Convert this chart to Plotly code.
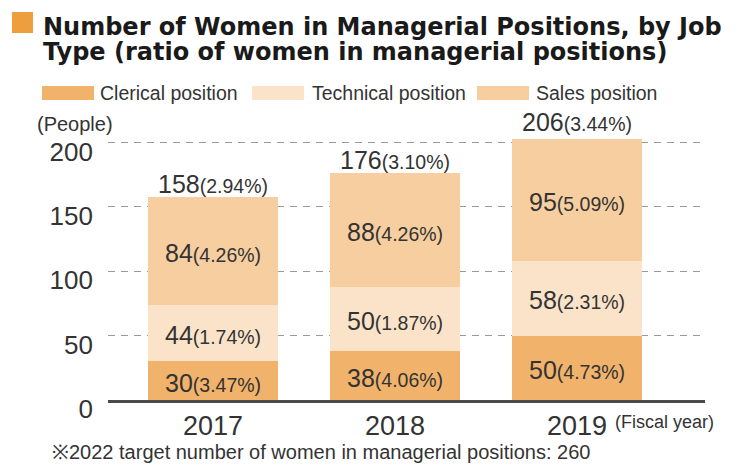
import plotly.graph_objects as go

years = ["2017", "2018", "2019"]
series_names = ["Clerical position", "Technical position", "Sales position"]
clerical = [30, 38, 50]
technical = [44, 50, 58]
sales = [84, 88, 95]
clerical_pct = ["3.47%", "4.06%", "4.73%"]
technical_pct = ["1.74%", "1.87%", "2.31%"]
sales_pct = ["4.26%", "4.26%", "5.09%"]
totals = [158, 176, 206]
total_pct = ["2.94%", "3.10%", "3.44%"]
y_ticks = [0, 50, 100, 150, 200]

colors = ["#F1B26C", "#FBE3C9", "#F6CEA0"]
FONT = "Liberation Sans, Arial, sans-serif"
TFONT = "DejaVu Sans, Liberation Sans, Arial, sans-serif"
TXT = "#333333"

# the page body adds an 8px offset; size the figure to fill the rest of the window
OFF = 8
W, H = 752 - OFF, 471 - OFF
L, R, T, B = 108 - OFF, 47, 120 - OFF, 71
PW, PH = W - L - R, H - T - B


def px(x):  # reference-window pixel -> paper
    return (x - OFF - L) / PW


def py(y):
    return (H - B - (y - OFF)) / PH


xs = list(range(len(years)))
fig = go.Figure()
for name, vals, col in zip(series_names, [clerical, technical, sales], colors):
    fig.add_trace(go.Bar(x=xs, y=vals, name=name, marker=dict(color=col, line=dict(width=0)),
                         width=0.71, showlegend=False, hoverinfo="skip"))

ann = []
for i in xs:
    base = 0
    for vals, pcts in [(clerical, clerical_pct), (technical, technical_pct), (sales, sales_pct)]:
        v = vals[i]
        ann.append(dict(x=i, y=base + v / 2, xref="x", yref="y", showarrow=False, yshift=-2,
                        text=f"<span style='font-size:25px'>{v}</span><span style='font-size:19.5px'>({pcts[i]})</span>",
                        font=dict(family=FONT, color=TXT)))
        base += v
    ann.append(dict(x=i, y=totals[i], xref="x", yref="y", showarrow=False, yanchor="bottom", yshift=-3,
                    text=f"<span style='font-size:25px'>{totals[i]}</span><span style='font-size:19.5px'>({total_pct[i]})</span>",
                    font=dict(family=FONT, color=TXT)))

# Title
ann.append(dict(x=px(41), y=py(27), xref="paper", yref="paper", xanchor="left", yanchor="middle",
                showarrow=False, text="<b>Number of Women in Managerial Positions, by Job</b>",
                font=dict(family=TFONT, size=24, color="#1a1a1a")))
ann.append(dict(x=px(41), y=py(52.5), xref="paper", yref="paper", xanchor="left", yanchor="middle",
                showarrow=False, text="<b>Type (ratio of women in managerial positions)</b>",
                font=dict(family=TFONT, size=24, color="#1a1a1a")))

shapes = [dict(type="rect", xref="paper", yref="paper", x0=px(12), x1=px(33), y0=py(33), y1=py(12),
               fillcolor="#EF9E3E", line=dict(width=0))]

# Legend
leg_sw = [42, 252, 477]
leg_tx = [98, 310, 534]
for name, col, sx, tx in zip(series_names, colors, leg_sw, leg_tx):
    shapes.append(dict(type="rect", xref="paper", yref="paper", x0=px(sx), x1=px(sx + 52),
                       y0=py(100), y1=py(86), fillcolor=col, line=dict(width=0)))
    ann.append(dict(x=px(tx), y=py(93), xref="paper", yref="paper", xanchor="left", yanchor="middle",
                    showarrow=False, text=name, font=dict(family=FONT, size=19.5, color=TXT)))

ann.append(dict(x=px(35), y=py(124), xref="paper", yref="paper", xanchor="left", yanchor="middle",
                showarrow=False, text="(People)", font=dict(family=FONT, size=20, color=TXT)))
ann.append(dict(x=px(613), y=py(422), xref="paper", yref="paper", xanchor="left", yanchor="middle",
                showarrow=False, text="(Fiscal year)", font=dict(family=FONT, size=18, color=TXT)))
ann.append(dict(x=px(50), y=py(452), xref="paper", yref="paper", xanchor="left", yanchor="middle",
                showarrow=False, text="※2022 target number of women in managerial positions: 260",
                font=dict(family=FONT, size=20, color=TXT)))

fig.update_layout(
    width=W, height=H, margin=dict(l=L, r=R, t=T, b=B, pad=0),
    paper_bgcolor="white", plot_bgcolor="white", barmode="stack", bargap=0.29,
    annotations=ann, shapes=shapes, showlegend=False,
    xaxis=dict(range=[-0.577, -0.577 + PW / 182], tickvals=xs, ticktext=years, showgrid=False,
               zeroline=False, showline=True, linecolor="#4a4a4a", linewidth=3, ticks="",
               tickfont=dict(family=FONT, size=27, color=TXT), fixedrange=True),
    yaxis=dict(range=[0, PH / 1.288], tickvals=y_ticks, showgrid=True, gridcolor="#9a9a9a",
               gridwidth=1.3, griddash="7px,6px", zeroline=False, showline=False, ticks="",
               ticklabelstandoff=14, ticklabelshift=9,
               tickfont=dict(family=FONT, size=26, color=TXT), fixedrange=True),
)
fig.write_html("out.html")
